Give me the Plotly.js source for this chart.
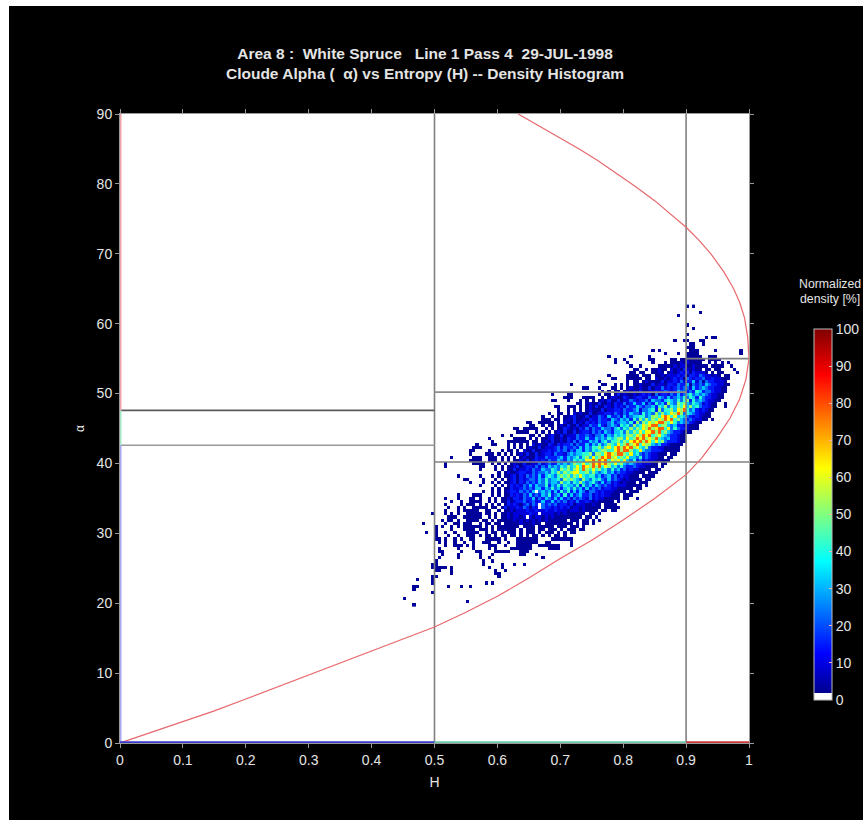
<!DOCTYPE html>
<html>
<head>
<meta charset="utf-8">
<script src="https://cdn.plot.ly/plotly-3.0.1.min.js"></script>
<style>
html,body{margin:0;padding:0;background:#fff;width:863px;height:820px;overflow:hidden}
#frame{position:absolute;left:9px;top:6px;width:854px;height:814px;background:#000}
#chart{width:854px;height:814px}
</style>
</head>
<body>
<div id="frame"><div id="chart"></div></div>
<script>
// Histogram cell size and origin
var firstH = 0.4525, stepH = 0.005, topAlpha = 62.5, stepAlpha = 0.45;
// Density read for each digit in the rows below ('.' is an empty cell, '|' only groups digits)
var levelValues = [0, 3, 9, 15, 23, 32, 42, 52, 63, 78];
// One entry per histogram row, top to bottom; "column:digits" segments
var densityRows = [
"90:1 92:1","","94:1","87:1","","","90:1","92:1","","90:1",
"96:1 98:11","86:1 89:11 94:11","91:11 95:1","90:111",
"79:1 81:1 91:111 99:1 107:1","83:1 87:1 90:1111 107:1",
"65:1 72:1 78:1 90:11111 97:111","67:1 70:1 78:11 85:11 88:11211111 97:1111",
"67:1 71:1 79:1 83:1.1112121111 97:1 99:1 101:1 103:1",
"72:1 75:1 81:1111121221121111 98:1111 104:1",
"73:11 77:1.11211.2121321211.11.1 100:1 105:1",
"72:11.11 79:1121.1212323132221.1.11 106:1",
"65:1 71:1111 76:111.112122|2323133243|22121.11",
"66:11 71:11111 77:11.2112123|2314323342|2322111",
"62:1 71:1.11.12111|1312232423|3524143322|21",
"53:1 63:11 67:1 69:1.1.112111|3122133243|3514343543|32211",
"57:11 62:1 66:11.1.12112|1131224232|3434425345|4332211",
"63:1 65:1.11.12121|3112232343|2354434365|34432211",
"47:1 52:11 62:1 64:11.1312112|1232314233|2435345645|45432211",
"51:111 57:1111 63:1.12211321|2332243354|3534546465|364332211",
"47:11 52:1 56:1.1.1.1213|1131224323|3425443565|4646736454|32211",
"55:11.1211311|2132242353|3524364537|5476754654|23211 102:1",
"48:11 52:111 56:1.12131132|1323243354|3445365746|5768575643|3211 102:1",
"49:1 52:1.1.1.1211|1312233243|3452445637|4667587964|5323211",
"46:1 49:11.1.21211|3112233243|2435443645|4757568797|4654322|11",
"44:1 47:1.1.112311|1312243253|3425345566|4577689868|5654323|2111",
"44:111 48:11.1213112|1322433254|3545364757|5768798967|5434322|11 98:1",
"39:11 43:1111 47:1.1.211312|1323243345|3455463747|6878997686|4544321|1",
"40:11 44:1.11.12131|1312243353|2454365647|5687899677|5453322|111",
"35:11 38:11111 45:1.1.113212|1324243354|4356465757|6879789968|4643321|11",
"36:1111 42:1.1.1.1213|1131233243|4354355647|5768688979|6754332|111",
"31:1 34:1 40:11.1.12311|3122243343|2445354656|5776879896|7865433|211",
"27:1 35:1111 40:1.1.112311|2132243353|3545465677|5867989787|9654533|211",
"28:1 33:1111111 41:11.1213112|1324243354|5356466757|6898979868|6743332|11",
"23:1 28:11 33:1.1.1.1.21|2113213233|4243353546|4576586797|8968775453|321111",
"22:111 33:1.1.1.1211|3122234243|3435354667|5786897989|7865743322|11111",
"21:11 27:1 31:1.11.1.211|3112232343|4243553546|5677668979|9756854433|3211111",
"21:1 26:111 30:1.1.1.1213|1131233243|3245455667|4776898799|7685643432|2111.11",
"15:1 22:111 27:111 31:1.1.1.1211|1322433345|3545646758|6798978676|8554634322|11.11",
"21:1111 27:111 31:1.1.112131|2323243354|3546565889|7989687868|5463423221|1111",
"13:1 22:1111 28:1.1.1.1211|3112242343|3545457668|6798989768|6754543322|211.11",
"13:1 24:11 29:1.1.112312|3324243545|4657568698|7979687564|6433432211|11.1",
"24:1 29:1.1.113122|3243354465|4767578697|6867564645|3423221111|.11",
"30:1.12112332|2434454657|5767886675|7545645343|3221111.11|1",
"17:1 24:1 28:1.1.112313|2434353565|4676757686|5664534534|2322111.11|11",
"19:11 25:1 29:1.1.123132|3443546455|6476765475|4656435343|2121111.11",
"21:1 25:1 28:1.1.112313|2434354645|5475646575|4564353423|212111.111",
"24:1 29:1.1.132324|3535446354|6465546364|5354343232|2211111.1",
"28:1.1.113223|4343553546|4535646453|5343423322|11111.11",
"25:1 28:1.1.123324|3435.45453|5364635354|2443232221|111.111",
"17:1 22:111 28:1.1.113232|4353435463|4536353453|3423232211|1.111",
"13:1 17:1 21:11 24:1 27:1.1.112133|2433524354|3535342434|3242322111|11.11 74:1",
"15:1 18:1 21:1111 27:1.1.113123|3423423533|5343423242|2321211111|.1",
"13:1 18:1 20:11 22:1 24:1 26:1.1.1.1323|2134243.43|4342332312|2211211.11|11",
"14:1 17:1 19:1 22:11 24:11 26:1.11.13122|3243132.43|3232323122|1211111.11|111",
"13:1 17:1 19:11111 26:11 30:1.11212223|2232232232|2212221211|11.11.11",
"9:1 13:1 15:1 17:1 20:1111 24:1 26:11.1.11212|2222322.22|2212121111|11.11.1",
"14:111 19:111111 27:1.1.112122|12.2122121|2111111111|.11.1",
"12:1 14:11 17:1 20:111 23:1 25:11.1.11111|2121212121|2111111.11|1.11.1.1",
"6:1 13:1 16:11 19:11 21:1 24:1.1 27:1.11.11111|2111211.11|1111111.1.|11.1",
"10:1 12:1 15:1 17:1 19:111111 26:1.1.111111|1.1111.111|11.111.111|.1",
"10:1 15:1 19:111 22:1.1 25:11.1.11111|1.1.111.11|.111.1.111|.11",
"7:1 10:1 13:1 16:1 20:111 23:1 26:1.11.1.111|.1.111.1.1|11.1.1.11",
"10:1 14:1 17:1 20:111 24:1 26:11.1.11.11|.1.1.11.1.|1.11.1.",
"10:11 13:1 16:1 18:1 21:11 26:11111 32:1 36:1111111 47:1111111",
"11:1 13:1 16:1 19:1 22:1 25:111 30:1 33:1 36:1111111 45:11 53:1",
"13:1 16:111 20:1 22:1 27:111 32:1 36:11111 43:1111111 53:1",
"11:1 17:1 22:1 27:1 29:1 34:1111111 46:1111",
"11:11 18:1 23:11 29:11111 37:111",
"12:1 17:1 24:1 28:1 37:11 42:1",
"11:1 17:1 24:1 27:1 44:1",
"10:1 25:1 28:1",
"9:11 25:1 31:1 35:1 38:1",
"9:11111 15:1 27:1 31:1",
"10:11 15:1 29:1 32:1",
"15:1 29:11",
"9:11 30:1",
"4:1 9:1",
"9:1 26:1 28:1",
"3:11 14:1 18:1 21:1",
"3:1","9:1","","0:1","20:1","3:1"
];
// Gray class boundaries
var boundaryH = [0.5, 0.9];
var zoneLines = [
  {h:[0,0.5],   a:[47.6,47.6], c:'#5a5a5a'},
  {h:[0,0.5],   a:[42.6,42.6], c:'#9a9a9a'},
  {h:[0.5,0.9], a:[50.2,50.2], c:'#8c8c8c'},
  {h:[0.5,0.9], a:[40.2,40.2], c:'#808080'},
  {h:[0.9,1],   a:[55,55],     c:'#808080'},
  {h:[0.9,1],   a:[40.2,40.2], c:'#808080'}
];
// Red limit curves of the H-alpha plane
var lowerCurveH = [0,0.05,0.1,0.15,0.2,0.25,0.3,0.35,0.4,0.45,0.5,0.55,0.6,0.65,0.7,0.75,0.8,0.85,0.9,0.925,0.95,0.97,0.985,0.995,1];
var lowerCurveA = [0,1.5,3,4.6,6.3,8,9.7,11.4,13.1,14.8,16.6,18.7,21,23.6,26.4,29,31.9,35,38.4,40.8,43.8,46.5,49.2,52,55];
var upperCurveH = [0.633,0.66,0.7,0.73,0.76,0.79,0.82,0.85,0.88,0.9,0.92,0.94,0.96,0.975,0.985,0.993,0.998,1];
var upperCurveA = [90,88.6,86.6,85,83.3,81.5,79.6,77.6,75.4,73.8,72,69.9,67.4,65.1,63.1,60.8,58,55];
// Coloured edge segments
var leftEdge = [
  {a:[90,47.6], c:'#f2a3a8'}, {a:[47.6,42.6], c:'#a6e6c8'}, {a:[42.6,0], c:'#a8a8ee'}
];
var bottomEdge = [
  {h:[0,0.5], c:'#3a3ac8'}, {h:[0.5,0.9], c:'#6cc8a8'}, {h:[0.9,1], c:'#c83a3a'}
];
var axisTicksX = [0,0.1,0.2,0.3,0.4,0.5,0.6,0.7,0.8,0.9,1];
var axisTicksY = [0,10,20,30,40,50,60,70,80,90];
var barTicks = [0,10,20,30,40,50,60,70,80,90,100];

var colCount = 111, rowCount = densityRows.length;
var z = [], ys = [], xs = [];
for (var c = 0; c < colCount; c++) xs.push(firstH + stepH * c);
for (var r = rowCount - 1; r >= 0; r--) {
  var row = new Array(colCount).fill(null);
  densityRows[r].replace(/\|/g, '').split(' ').forEach(function (seg) {
    if (!seg) return;
    var p = seg.split(':'), start = +p[0];
    for (var i = 0; i < p[1].length; i++) {
      var ch = p[1][i];
      if (ch !== '.' && start + i < colCount) row[start + i] = levelValues[+ch];
    }
  });
  z.push(row);
  ys.push(topAlpha - stepAlpha * r);
}

var traces = [{
  type: 'heatmap', x: xs, y: ys, z: z, zmin: 0, zmax: 100, zsmooth: false,
  hoverinfo: 'skip', xgap: 0, ygap: 0,
  colorscale: [
    [0, '#ffffff'], [0.019, '#ffffff'], [0.02, '#000090'], [0.125, '#0000ff'],
    [0.375, '#00ffff'], [0.625, '#ffff00'], [0.875, '#ff0000'], [1, '#800000']
  ],
  colorbar: {
    thickness: 18, thicknessmode: 'pixels', len: 371, lenmode: 'pixels',
    x: 1.104, xanchor: 'left', xpad: 0, y: 0.0684, yanchor: 'bottom', ypad: 0,
    tickvals: barTicks, ticktext: barTicks.map(String), ticks: 'inside', ticklen: 3,
    tickcolor: '#ffb0b0', tickfont: {family: 'Liberation Sans', size: 14, color: '#e4e4e4'},
    outlinecolor: '#bbbbbb', outlinewidth: 1, borderwidth: 0
  }
}];
function line(x, y, color, width) {
  return {type: 'scatter', mode: 'lines', x: x, y: y, hoverinfo: 'skip', showlegend: false,
          cliponaxis: false, line: {color: color, width: width}};
}
boundaryH.forEach(function (h) { traces.push(line([h, h], [0, 90], '#808080', 1.6)); });
zoneLines.forEach(function (l) { traces.push(line(l.h, l.a, l.c, 1.6)); });
traces.push(line(lowerCurveH, lowerCurveA, '#e8686c', 1.2));
traces.push(line(upperCurveH, upperCurveA, '#e8686c', 1.2));
leftEdge.forEach(function (e) { traces.push(line([0, 0], e.a, e.c, 3)); });
bottomEdge.forEach(function (e) { traces.push(line(e.h, [0, 0], e.c, 3.5)); });

var textColor = '#e4e4e4', family = 'Liberation Sans';
var layout = {
  width: 854, height: 814,
  paper_bgcolor: '#000000', plot_bgcolor: '#ffffff',
  margin: {l: 110.5, r: 113.5, t: 108, b: 77, pad: 0, autoexpand: false},
  showlegend: false,
  title: {
    text: 'Area 8 :\u00a0\u00a0White Spruce\u00a0\u00a0\u00a0Line 1 Pass 4\u00a0\u00a029-JUL-1998<br>Cloude Alpha (\u00a0\u00a0\u03b1) vs Entropy (H) -- Density Histogram',
    font: {family: family, size: 15.5, color: textColor, weight: 700},
    x: 0.4872, xref: 'container', xanchor: 'center', y: 0.9355, yref: 'container', yanchor: 'top'
  },
  xaxis: {
    range: [0, 1], tickvals: axisTicksX, ticktext: axisTicksX.map(String), ticks: 'outside', ticklen: 4,
    tickcolor: '#9a9a9a', linecolor: '#9a9a9a', linewidth: 1, mirror: 'ticks', showgrid: false, zeroline: false,
    tickfont: {family: family, size: 14, color: textColor},
    title: {text: 'H', font: {family: family, size: 14, color: textColor}, standoff: 10}
  },
  yaxis: {
    range: [0, 90], tickvals: axisTicksY, ticktext: axisTicksY.map(String), ticks: 'outside', ticklen: 4,
    tickcolor: '#9a9a9a', linecolor: '#9a9a9a', linewidth: 1, mirror: 'ticks', showgrid: false, zeroline: false,
    tickfont: {family: family, size: 14, color: textColor},
    title: {text: '\u03b1', font: {family: family, size: 12, color: textColor}, standoff: 9}
  },
  annotations: [
    {text: 'Normalized', xref: 'paper', yref: 'paper', x: 1.1294, y: 0.7297, xanchor: 'center', yanchor: 'middle', showarrow: false,
     font: {family: family, size: 12.3, color: textColor}},
    {text: 'density [%]', xref: 'paper', yref: 'paper', x: 1.1294, y: 0.7059, xanchor: 'center', yanchor: 'middle', showarrow: false,
     font: {family: family, size: 12.3, color: textColor}}
  ]
};
Plotly.newPlot('chart', traces, layout, {displayModeBar: false, staticPlot: true});
</script>
</body>
</html>
